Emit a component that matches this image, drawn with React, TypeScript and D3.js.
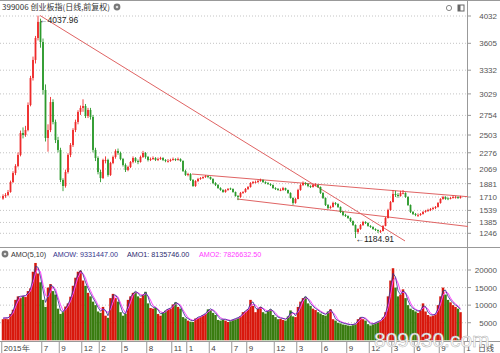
import React, { useEffect, useRef } from 'react';
import * as d3 from 'd3';

// one candle ~ one week of the daily chart: [open, high, low, close]
const ohlc: [number, number, number, number][] = [
  [1690, 1745, 1675, 1723], [1723, 1760, 1700, 1736], [1736, 1800, 1720, 1774], [1774, 1920, 1765, 1902],
  [1902, 2040, 1890, 2017], [2017, 2130, 1990, 2107], [2107, 2280, 2090, 2248], [2248, 2560, 2230, 2529],
  [2529, 2600, 2460, 2503], [2503, 2620, 2480, 2567], [2567, 2920, 2550, 2887], [2887, 3260, 2870, 3232],
  [3232, 3470, 3200, 3436], [3436, 3720, 3400, 3688], [3688, 4037.96, 3650, 3940], [3940, 3990, 3560, 3625],
  [3625, 3680, 3020, 3079], [3079, 3150, 2420, 2465], [2465, 2640, 2290, 2567], [2567, 2990, 2540, 2925],
  [2925, 2960, 2640, 2670], [2670, 2700, 2400, 2439], [2439, 2480, 2280, 2312], [2312, 2340, 1900, 1928],
  [1928, 1950, 1785, 1851], [1851, 2060, 1830, 2030], [2030, 2270, 2010, 2248], [2248, 2400, 2220, 2375],
  [2375, 2590, 2350, 2567], [2567, 2700, 2540, 2670], [2670, 2820, 2640, 2798], [2798, 2880, 2760, 2849],
  [2849, 2960, 2800, 2874], [2874, 2900, 2720, 2746], [2746, 2850, 2720, 2823], [2823, 2850, 2700, 2734],
  [2734, 2760, 2280, 2312], [2312, 2340, 2170, 2209], [2209, 2230, 2000, 2030], [2030, 2060, 1900, 1953],
  [1953, 2200, 1940, 2184], [2170, 2230, 2140, 2184], [2184, 2200, 1970, 1992], [1992, 2160, 1980, 2145],
  [2145, 2240, 2130, 2222], [2222, 2320, 2200, 2299], [2299, 2330, 2250, 2273], [2273, 2290, 2180, 2196],
  [2196, 2210, 2100, 2120], [2120, 2140, 2030, 2056], [2056, 2110, 2040, 2094], [2094, 2170, 2080, 2158],
  [2158, 2230, 2140, 2209], [2209, 2220, 2150, 2171], [2171, 2190, 2130, 2158], [2158, 2240, 2150, 2222],
  [2222, 2300, 2210, 2273], [2273, 2285, 2200, 2222], [2222, 2235, 2165, 2184], [2184, 2215, 2170, 2196],
  [2196, 2230, 2185, 2209], [2209, 2220, 2170, 2184], [2184, 2215, 2170, 2196], [2196, 2225, 2185, 2209],
  [2209, 2220, 2170, 2184], [2184, 2195, 2155, 2171], [2165, 2195, 2150, 2171], [2171, 2200, 2160, 2184],
  [2184, 2215, 2175, 2196], [2196, 2205, 2170, 2184], [2184, 2215, 2175, 2196], [2196, 2205, 2160, 2171],
  [2171, 2180, 2030, 2043], [2043, 2060, 1980, 1992], [1992, 2020, 1975, 2005], [2005, 2015, 1915, 1928],
  [1928, 1940, 1840, 1851], [1851, 1925, 1840, 1915], [1915, 1955, 1900, 1941], [1941, 1965, 1930, 1953],
  [1953, 1975, 1940, 1966], [1966, 1990, 1955, 1979], [1979, 1985, 1950, 1966], [1966, 1972, 1930, 1941],
  [1941, 1950, 1875, 1889], [1889, 1900, 1850, 1864], [1864, 1875, 1815, 1825], [1825, 1835, 1790, 1800],
  [1800, 1810, 1765, 1774], [1774, 1810, 1765, 1800], [1800, 1825, 1790, 1813], [1820, 1830, 1800, 1813],
  [1813, 1820, 1765, 1774], [1774, 1780, 1715, 1723], [1723, 1735, 1670, 1710], [1710, 1775, 1700, 1762],
  [1762, 1785, 1750, 1774], [1774, 1825, 1765, 1813], [1813, 1850, 1800, 1838], [1838, 1900, 1830, 1889],
  [1889, 1915, 1875, 1902], [1895, 1920, 1885, 1902], [1902, 1930, 1890, 1915], [1915, 1945, 1905, 1928],
  [1928, 1935, 1890, 1902], [1902, 1910, 1875, 1889], [1889, 1900, 1865, 1877], [1877, 1885, 1850, 1864],
  [1864, 1870, 1815, 1825], [1825, 1835, 1800, 1813], [1813, 1825, 1790, 1800], [1795, 1820, 1785, 1800],
  [1800, 1840, 1790, 1825], [1825, 1830, 1790, 1800], [1800, 1805, 1750, 1762], [1762, 1770, 1690, 1698],
  [1698, 1705, 1610, 1634], [1634, 1700, 1625, 1685], [1685, 1815, 1680, 1800], [1800, 1880, 1790, 1864],
  [1864, 1910, 1850, 1889], [1889, 1900, 1860, 1877], [1877, 1885, 1835, 1851], [1851, 1860, 1825, 1838],
  [1838, 1875, 1830, 1864], [1858, 1885, 1845, 1864], [1864, 1870, 1825, 1838], [1838, 1845, 1750, 1762],
  [1762, 1770, 1685, 1698], [1698, 1705, 1595, 1608], [1608, 1620, 1555, 1570], [1570, 1600, 1560, 1583],
  [1583, 1650, 1575, 1634], [1634, 1645, 1605, 1621], [1621, 1630, 1570, 1583], [1583, 1590, 1505, 1519],
  [1519, 1530, 1465, 1480], [1480, 1495, 1455, 1467], [1467, 1475, 1430, 1442], [1442, 1450, 1390, 1403],
  [1403, 1410, 1340, 1352], [1352, 1360, 1184.91, 1263], [1263, 1310, 1240, 1301], [1301, 1365, 1290, 1352],
  [1352, 1405, 1340, 1391], [1391, 1400, 1365, 1378], [1378, 1385, 1330, 1340], [1340, 1350, 1315, 1327],
  [1327, 1335, 1290, 1301], [1301, 1310, 1275, 1288], [1288, 1295, 1250, 1275], [1268, 1290, 1250, 1275],
  [1275, 1350, 1270, 1340], [1340, 1455, 1335, 1442], [1442, 1560, 1435, 1544], [1544, 1660, 1535, 1646],
  [1646, 1800, 1640, 1749], [1749, 1790, 1710, 1736], [1736, 1760, 1700, 1723], [1723, 1790, 1715, 1762],
  [1755, 1800, 1745, 1762], [1762, 1770, 1700, 1710], [1710, 1720, 1595, 1608], [1608, 1615, 1505, 1519],
  [1519, 1530, 1480, 1493], [1493, 1505, 1465, 1480], [1475, 1500, 1455, 1480], [1480, 1505, 1470, 1493],
  [1493, 1530, 1485, 1519], [1519, 1545, 1510, 1531], [1531, 1560, 1520, 1544], [1544, 1570, 1530, 1557],
  [1557, 1585, 1545, 1570], [1570, 1595, 1555, 1583], [1583, 1645, 1575, 1634], [1634, 1695, 1625, 1685],
  [1685, 1725, 1675, 1710], [1710, 1720, 1675, 1685], [1692, 1705, 1670, 1685], [1685, 1710, 1680, 1698],
  [1698, 1730, 1690, 1710], [1705, 1725, 1690, 1710], [1710, 1720, 1685, 1698], [1698, 1725, 1690, 1710],
];

const volumes = [
  6000, 6200, 6000, 7500, 8700, 11500, 12500, 12000, 12600, 12300, 14000, 14800, 19500, 22000, 19000, 16500,
  11500, 9500, 15000, 16000, 14000, 13000, 9000, 7500, 8000, 9600, 10500, 12400, 15500, 17800, 19500, 19800,
  17000, 15500, 13500, 12500, 11000, 10000, 8200, 7800, 9500, 7000, 6400, 12000, 13200, 12000, 11000, 8000,
  7000, 7500, 11500, 12500, 13500, 13800, 12500, 12000, 13000, 13800, 10500, 9200, 9000, 9200, 7500, 7000,
  8000, 8400, 8800, 9000, 10200, 10800, 9500, 9000, 6600, 6200, 5600, 5300, 5200, 6200, 6400, 6600,
  7200, 7500, 8800, 8600, 7800, 7200, 5800, 5600, 5800, 5600, 5200, 5400, 5800, 6000, 6300, 6800,
  8000, 8200, 8800, 11500, 9800, 8000, 9000, 9500, 8000, 7600, 8400, 8800, 7200, 6600, 6000, 6100,
  5800, 5600, 6800, 8500, 6800, 6600, 9500, 11000, 12000, 12400, 10500, 9800, 9000, 8600, 8000, 7600,
  7200, 7000, 8200, 8800, 6000, 5600, 5000, 4800, 4500, 4400, 4200, 4100, 4300, 4600, 6000, 6500,
  6000, 5600, 4600, 4200, 4500, 4900, 5200, 5500, 6500, 8000, 12500, 17000, 20500, 15000, 12500, 13000,
  14500, 12000, 10000, 9000, 8600, 8200, 7800, 8500, 10500, 8200, 7200, 6800, 7000, 7400, 10000, 12500,
  15000, 13000, 11500, 10800, 10000, 9500, 9000, 8000,
];

const priceTicks = [4032, 3605, 3332, 3029, 2754, 2503, 2276, 2069, 1881, 1710, 1539, 1385, 1246];
const volumeTicks = [5000, 10000, 15000, 20000];
const monthLabels = ['2015年', '7', '9', '12', '2', '5', '8', '11', '1', '4', '7', '9', '12', '3', '6', '9', '12', '3', '6', '9', '1'];
const monthBars = [0, 16, 23, 32, 39, 48, 58, 68, 74, 83, 92, 98, 109, 118, 128, 138, 147, 156, 165, 175, 185];
// drawn trend lines: [bar0, price0, bar1, price1]
const trendLines = [
  [14.8, 4040, 160.8, 1148],
  [75.6, 2004, 186, 1714],
  [93.6, 1685, 186, 1333],
];
const legendItems = ['AMO(5,10)', 'AMOW: 9331447.00', 'AMO1: 8135746.00', 'AMO2: 7826632.50'];

const UP = '#ee2a2a';
const DOWN = '#2c9a2c';
const FONT = '"Liberation Sans", Arial, sans-serif';

function App() {
  const svgRef = useRef<SVGSVGElement>(null);

  useEffect(() => {
    document.body.style.margin = '0';
    const svg = d3.select(svgRef.current);
    svg.selectAll('*').remove();

    const axisX = 467;
    const x = d3.scaleLinear().domain([0, ohlc.length - 1]).range([3, 460.5]);
    const y = d3.scaleLinear().domain([1246, 3332, 3605, 4032]).range([233.3, 70.2, 43.3, 16]);
    const yv = d3.scaleLinear().domain([0, 20000]).range([340.3, 270]);

    svg.append('rect').attr('width', 500).attr('height', 353).attr('fill', '#fff');

    // grid
    const grid = svg.append('g').attr('stroke', '#c4c4c4').attr('stroke-dasharray', '1,2');
    grid.selectAll(null).data(priceTicks).join('line')
      .attr('x1', 0).attr('x2', axisX).attr('y1', d => y(d)).attr('y2', d => y(d));
    grid.selectAll(null).data(volumeTicks).join('line')
      .attr('x1', 0).attr('x2', axisX).attr('y1', d => yv(d)).attr('y2', d => yv(d));

    // frame lines
    const frame = svg.append('g').attr('stroke', '#999').attr('stroke-width', 1);
    frame.append('line').attr('x1', 0).attr('x2', 500).attr('y1', 0.5).attr('y2', 0.5);
    frame.append('line').attr('x1', 0).attr('x2', 500).attr('y1', 247.5).attr('y2', 247.5);
    frame.append('line').attr('x1', 0).attr('x2', 500).attr('y1', 341.5).attr('y2', 341.5);
    frame.append('line').attr('x1', axisX + 0.5).attr('x2', axisX + 0.5).attr('y1', 0).attr('y2', 341.5);

    // right axes
    const ax = svg.append('g').style('font-family', FONT).style('font-size', '8px').attr('fill', '#555');
    ax.selectAll(null).data(priceTicks).join('line')
      .attr('x1', axisX).attr('x2', axisX + 4).attr('y1', d => y(d)).attr('y2', d => y(d)).attr('stroke', '#999');
    ax.selectAll(null).data(priceTicks).join('text')
      .attr('x', 497).attr('y', d => y(d) + 3).attr('text-anchor', 'end').text(d => d);
    ax.selectAll(null).data(volumeTicks).join('line')
      .attr('x1', axisX).attr('x2', axisX + 4).attr('y1', d => yv(d)).attr('y2', d => yv(d)).attr('stroke', '#999');
    ax.selectAll(null).data(volumeTicks).join('text')
      .attr('x', 497).attr('y', d => yv(d) + 3).attr('text-anchor', 'end').text(d => d);

    // bottom month axis
    const bx = svg.append('g').style('font-family', FONT).style('font-size', '8px').attr('fill', '#444');
    bx.selectAll(null).data(monthBars).join('line')
      .attr('x1', d => x(d - 0.5)).attr('x2', d => x(d - 0.5)).attr('y1', 341.5).attr('y2', 353).attr('stroke', '#999');
    bx.selectAll(null).data(monthBars).join('text')
      .attr('x', d => x(d - 0.5) + 2).attr('y', 350.5).text((d, i) => monthLabels[i]);
    bx.append('text').attr('x', 478).attr('y', 350.5).style('font-family', '"Noto Sans CJK SC", sans-serif').text('日线');

    // trend lines
    svg.append('g').selectAll(null).data(trendLines).join('line')
      .attr('x1', d => x(d[0])).attr('y1', d => y(d[1])).attr('x2', d => x(d[2])).attr('y2', d => y(d[3]))
      .attr('stroke', '#e06464').attr('stroke-width', 1);

    // candles
    const candles = svg.append('g').selectAll(null).data(ohlc).join('g')
      .attr('fill', d => (d[3] >= d[0] ? UP : DOWN)).attr('stroke', d => (d[3] >= d[0] ? UP : DOWN));
    candles.append('line')
      .attr('x1', (d, i) => x(i)).attr('x2', (d, i) => x(i)).attr('y1', d => y(d[1])).attr('y2', d => y(d[2]))
      .attr('stroke-width', 0.9);
    candles.append('rect')
      .attr('x', (d, i) => x(i) - 0.9).attr('width', 1.8)
      .attr('y', d => y(Math.max(d[0], d[3])))
      .attr('height', d => Math.max(0.8, Math.abs(y(d[0]) - y(d[3]))))
      .attr('stroke', 'none');

    // volume bars
    svg.append('g').selectAll(null).data(volumes).join('rect')
      .attr('x', (d, i) => x(i) - 1.25).attr('width', 2.5)
      .attr('y', d => yv(d)).attr('height', d => yv(0) - yv(d))
      .attr('fill', (d, i) => (ohlc[i][3] >= ohlc[i][0] ? '#d8180c' : '#3a7c10'));

    // moving averages of turnover
    const ma = (n: number) => volumes.map((v, i) => d3.mean(volumes.slice(Math.max(0, i - n + 1), i + 1)) as number);
    const line = d3.line<number>().x((d, i) => x(i)).y(d => yv(d) - 1);
    svg.append('path').attr('d', line(ma(3))).attr('fill', 'none').attr('stroke', '#ff44ff').attr('stroke-width', 1);
    svg.append('path').attr('d', line(ma(2))).attr('fill', 'none').attr('stroke', '#2e2e8a').attr('stroke-width', 0.8);

    // annotations
    const ann = svg.append('g').style('font-family', FONT).style('font-size', '8.5px').attr('fill', '#222');
    ann.append('text').attr('x', x(14) + 1).attr('y', y(4037.96) + 7).text('\u21904037.96');
    ann.append('text').attr('x', x(141)).attr('y', y(1184.91) + 4).text('\u21901184.91');

    // title
    const title = svg.append('g');
    title.append('text').attr('x', 2).attr('y', 10)
      .style('font-family', '"Noto Sans CJK SC", sans-serif').style('font-size', '8px').attr('fill', '#333')
      .text('399006 创业板指(日线,前复权)');
    title.append('circle').attr('cx', 117).attr('cy', 7).attr('r', 3.4).attr('fill', '#777');
    title.append('circle').attr('cx', 117).attr('cy', 7).attr('r', 1.3).attr('fill', '#ddd');
    title.append('circle').attr('cx', 449).attr('cy', 8).attr('r', 2.6).attr('fill', 'none').attr('stroke', '#888');
    title.append('rect').attr('x', 458).attr('y', 5).attr('width', 6).attr('height', 6).attr('fill', '#fff').attr('stroke', '#666');
    title.append('rect').attr('x', 458).attr('y', 5).attr('width', 2.5).attr('height', 6).attr('fill', '#666');

    // volume legend
    const lg = svg.append('g').style('font-family', FONT).style('font-size', '7.2px');
    lg.append('circle').attr('cx', 5).attr('cy', 254).attr('r', 3.4).attr('fill', '#777');
    lg.append('circle').attr('cx', 5).attr('cy', 254).attr('r', 1.3).attr('fill', '#ddd');
    const legX = [11, 53, 127, 199];
    const legColor = ['#333', '#34348c', '#2a2a6e', '#ff3cff'];
    lg.selectAll(null).data(legendItems).join('text')
      .attr('x', (d, i) => legX[i]).attr('y', 257).attr('fill', (d, i) => legColor[i]).text(d => d);

    // watermark
    svg.append('text').attr('x', 374).attr('y', 347)
      .style('font-family', FONT).style('font-size', '21px')
      .attr('fill', '#fff').attr('stroke', '#b0b0b0').attr('stroke-width', 0.5)
      .text('809030.com');
  }, []);

  return <svg ref={svgRef} width={500} height={353} style={{ display: 'block' }}></svg>;
}

export default App;
